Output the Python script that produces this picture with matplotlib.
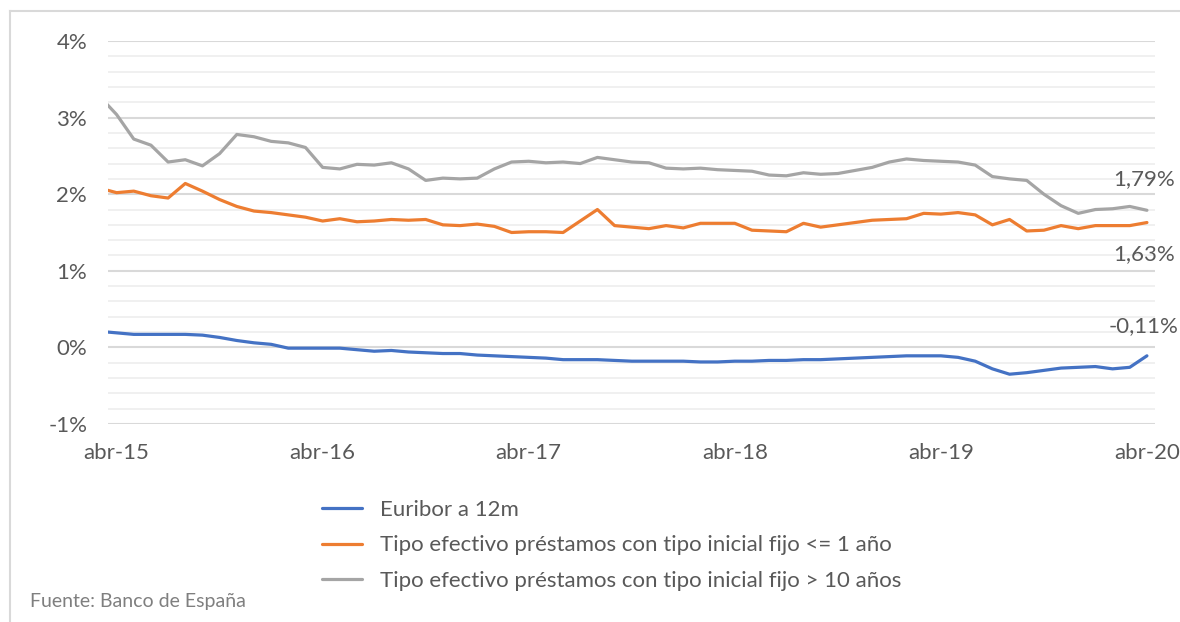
import numpy as np
import matplotlib
matplotlib.use("Agg")
import matplotlib.pyplot as plt
from matplotlib.lines import Line2D
from matplotlib.ticker import MultipleLocator, FuncFormatter

plt.rcParams['font.family'] = ['Lato', 'DejaVu Sans']

# monthly data, mar-15 .. abr-20 (values in %); mar-15 sits left of the axis start
meses = ['abr-15', 'abr-16', 'abr-17', 'abr-18', 'abr-19', 'abr-20']
mes_idx = np.arange(-1, 61)  # months counted from abr-15

euribor = [0.21, 0.19, 0.17, 0.17, 0.17, 0.17, 0.16, 0.13, 0.09, 0.06, 0.04,
           -0.01, -0.01, -0.01, -0.01, -0.03, -0.05, -0.04, -0.06, -0.07, -0.08,
           -0.08, -0.10, -0.11, -0.12, -0.13, -0.14, -0.16, -0.16, -0.16, -0.17,
           -0.18, -0.18, -0.18, -0.18, -0.19, -0.19, -0.18, -0.18, -0.17, -0.17,
           -0.16, -0.16, -0.15, -0.14, -0.13, -0.12, -0.11, -0.11, -0.11, -0.13,
           -0.18, -0.28, -0.35, -0.33, -0.30, -0.27, -0.26, -0.25, -0.28, -0.26,
           -0.11]

tipo_corto = [2.08, 2.02, 2.04, 1.98, 1.95, 2.14, 2.04, 1.93, 1.84, 1.78, 1.76,
              1.73, 1.70, 1.65, 1.68, 1.64, 1.65, 1.67, 1.66, 1.67, 1.60,
              1.59, 1.61, 1.58, 1.50, 1.51, 1.51, 1.50, 1.65, 1.80, 1.59,
              1.57, 1.55, 1.59, 1.56, 1.62, 1.62, 1.62, 1.53, 1.52, 1.51,
              1.62, 1.57, 1.60, 1.63, 1.66, 1.67, 1.68, 1.75, 1.74, 1.76,
              1.73, 1.60, 1.67, 1.52, 1.53, 1.59, 1.55, 1.59, 1.59, 1.59,
              1.63]

tipo_largo = [3.28, 3.04, 2.72, 2.64, 2.42, 2.45, 2.37, 2.53, 2.78, 2.75, 2.69,
              2.67, 2.61, 2.35, 2.33, 2.39, 2.38, 2.41, 2.33, 2.18, 2.21,
              2.20, 2.21, 2.33, 2.42, 2.43, 2.41, 2.42, 2.40, 2.48, 2.45,
              2.42, 2.41, 2.34, 2.33, 2.34, 2.32, 2.31, 2.30, 2.25, 2.24,
              2.28, 2.26, 2.27, 2.31, 2.35, 2.42, 2.46, 2.44, 2.43, 2.42,
              2.38, 2.23, 2.20, 2.18, 2.00, 1.85, 1.75, 1.80, 1.81, 1.84,
              1.79]

series = [
    ('Euribor a 12m', euribor, '#4472C4'),
    ('Tipo efectivo préstamos con tipo inicial fijo <= 1 año', tipo_corto, '#ED7D31'),
    ('Tipo efectivo préstamos con tipo inicial fijo > 10 años', tipo_largo, '#A5A5A5'),
]

txt = '#595959'
fs = 16

fig = plt.figure(figsize=(11.8, 6.22), dpi=100)
ax = fig.add_axes([108 / 1180, 1 - 424 / 622, (1155 - 108) / 1180, (424 - 41) / 622])

for label, vals, col in series:
    ax.plot(mes_idx, vals, color=col, lw=2.3, label=label, solid_capstyle='round', zorder=3)

ax.set_xlim(-0.5, 60.47)
ax.set_ylim(-1, 4)
ax.yaxis.set_major_locator(MultipleLocator(1))
ax.yaxis.set_minor_locator(MultipleLocator(0.2))
ax.yaxis.set_major_formatter(FuncFormatter(lambda v, p: f'{v:.0f}%'))
ax.grid(axis='y', which='minor', color='#f0f0f0', lw=1.4, zorder=0)
ax.grid(axis='y', which='major', color='#d9d9d9', lw=1.5, zorder=1)
ax.set_xticks(np.arange(0, 61, 12))
ax.set_xticklabels(meses)
ax.tick_params(axis='both', which='both', length=0, labelsize=fs, labelcolor=txt)
ax.tick_params(axis='y', pad=15)
ax.tick_params(axis='x', pad=14)
for s in ax.spines.values():
    s.set_visible(False)

# data labels at last point
offs = [30, -32, 31]
for (label, vals, col), dy in zip(series, offs):
    v = vals[-1]
    ax.annotate(f'{v:.2f}%'.replace('.', ','), xy=(mes_idx[-1], v), xytext=(-3, dy),
                textcoords='offset pixels', ha='center', va='center',
                fontsize=fs, color=txt, annotation_clip=False)

leg = fig.legend(loc='upper left', bbox_to_anchor=(313 / 1180, 1 - 491 / 622),
                 frameon=False, fontsize=fs, handlelength=1.8, handletextpad=0.8,
                 labelspacing=0.7, borderaxespad=0)
for t in leg.get_texts():
    t.set_color(txt)

fig.text(30 / 1180, 1 - 601 / 622, 'Fuente: Banco de España', fontsize=14,
         color='#7f7f7f', va='center', ha='left')

# chart frame (left and top edges visible)
fig.add_artist(Line2D([10 / 1180, 10 / 1180], [0, 1 - 11 / 622],
                      transform=fig.transFigure, color='#d9d9d9', lw=1.5))
fig.add_artist(Line2D([10 / 1180, 1], [1 - 11 / 622, 1 - 11 / 622],
                      transform=fig.transFigure, color='#d9d9d9', lw=1.5))

fig.savefig('out.png', dpi=100)
